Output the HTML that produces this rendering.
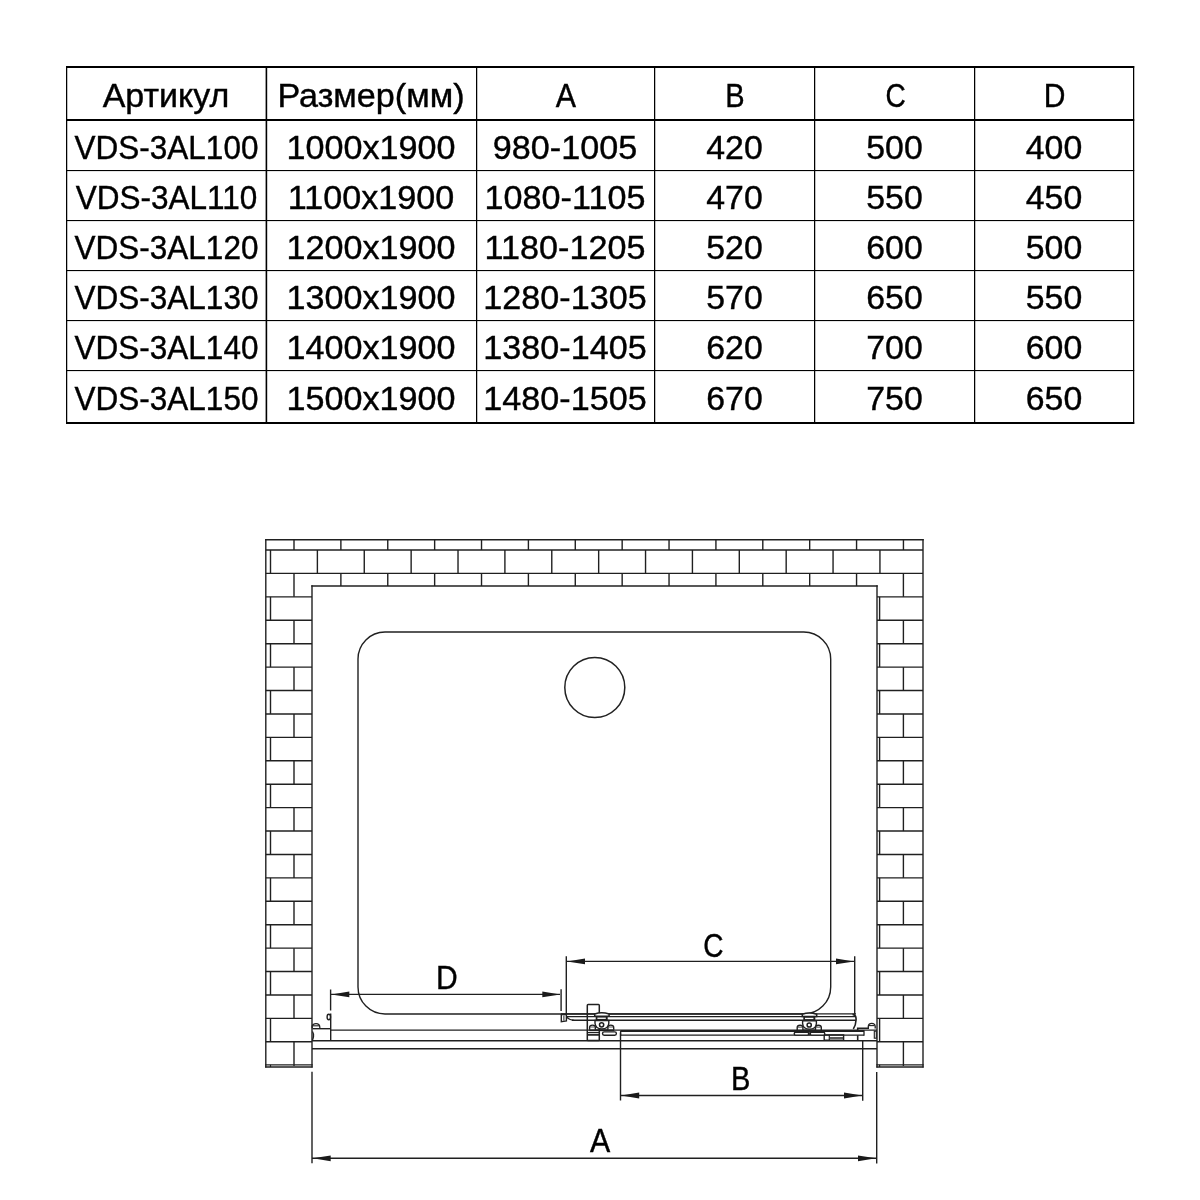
<!DOCTYPE html>
<html><head><meta charset="utf-8"><style>
html,body{margin:0;padding:0;background:#fff;width:1200px;height:1200px;overflow:hidden}
svg{display:block;will-change:transform}
text{font-family:"Liberation Sans",sans-serif;font-size:33px;fill:#000;stroke:#000;stroke-width:0.4px}
</style></head><body>
<svg width="1200" height="1200" viewBox="0 0 1200 1200">
<rect width="1200" height="1200" fill="#fff"/>
<g id="table">
<rect x="66" y="66" width="1.25" height="358" fill="#000"/>
<rect x="265.6" y="66" width="1.6" height="358" fill="#000"/>
<rect x="476" y="66" width="1.25" height="358" fill="#000"/>
<rect x="654" y="66" width="1.25" height="358" fill="#000"/>
<rect x="814" y="66" width="1.25" height="358" fill="#000"/>
<rect x="974" y="66" width="1.25" height="358" fill="#000"/>
<rect x="1133" y="66" width="1.25" height="358" fill="#000"/>
<rect x="66" y="66" width="1068.2" height="2" fill="#000"/>
<rect x="66" y="119" width="1068.2" height="2" fill="#000"/>
<rect x="66" y="170" width="1068.2" height="1.1" fill="#000"/>
<rect x="66" y="220" width="1068.2" height="1.1" fill="#000"/>
<rect x="66" y="270" width="1068.2" height="1.1" fill="#000"/>
<rect x="66" y="320" width="1068.2" height="1.1" fill="#000"/>
<rect x="66" y="370" width="1068.2" height="1.1" fill="#000"/>
<rect x="66" y="422" width="1068.2" height="2" fill="#000"/>
<text transform="translate(166.00,107) scale(1.03,1)" text-anchor="middle">Артикул</text>
<text transform="translate(371.00,107) scale(1.035,1)" text-anchor="middle">Размер(мм)</text>
<text transform="translate(565.80,107) scale(0.92,1)" text-anchor="middle">A</text>
<text transform="translate(734.90,107) scale(0.88,1)" text-anchor="middle">B</text>
<text transform="translate(895.50,107) scale(0.85,1)" text-anchor="middle">C</text>
<text transform="translate(1054.50,107) scale(0.91,1)" text-anchor="middle">D</text>
<text transform="translate(166.50,159) scale(0.955,1)" text-anchor="middle">VDS-3AL100</text>
<text transform="translate(371.00,159) scale(1.035,1)" text-anchor="middle">1000x1900</text>
<text transform="translate(565.00,159) scale(1.035,1)" text-anchor="middle">980-1005</text>
<text transform="translate(734.50,159) scale(1.025,1)" text-anchor="middle">420</text>
<text transform="translate(894.50,159) scale(1.025,1)" text-anchor="middle">500</text>
<text transform="translate(1054.00,159) scale(1.025,1)" text-anchor="middle">400</text>
<text transform="translate(166.50,209.3) scale(0.955,1)" text-anchor="middle">VDS-3AL110</text>
<text transform="translate(371.00,209.3) scale(1.035,1)" text-anchor="middle">1100x1900</text>
<text transform="translate(565.00,209.3) scale(1.035,1)" text-anchor="middle">1080-1105</text>
<text transform="translate(734.50,209.3) scale(1.025,1)" text-anchor="middle">470</text>
<text transform="translate(894.50,209.3) scale(1.025,1)" text-anchor="middle">550</text>
<text transform="translate(1054.00,209.3) scale(1.025,1)" text-anchor="middle">450</text>
<text transform="translate(166.50,259.2) scale(0.955,1)" text-anchor="middle">VDS-3AL120</text>
<text transform="translate(371.00,259.2) scale(1.035,1)" text-anchor="middle">1200x1900</text>
<text transform="translate(565.00,259.2) scale(1.035,1)" text-anchor="middle">1180-1205</text>
<text transform="translate(734.50,259.2) scale(1.025,1)" text-anchor="middle">520</text>
<text transform="translate(894.50,259.2) scale(1.025,1)" text-anchor="middle">600</text>
<text transform="translate(1054.00,259.2) scale(1.025,1)" text-anchor="middle">500</text>
<text transform="translate(166.50,308.7) scale(0.955,1)" text-anchor="middle">VDS-3AL130</text>
<text transform="translate(371.00,308.7) scale(1.035,1)" text-anchor="middle">1300x1900</text>
<text transform="translate(565.00,308.7) scale(1.035,1)" text-anchor="middle">1280-1305</text>
<text transform="translate(734.50,308.7) scale(1.025,1)" text-anchor="middle">570</text>
<text transform="translate(894.50,308.7) scale(1.025,1)" text-anchor="middle">650</text>
<text transform="translate(1054.00,308.7) scale(1.025,1)" text-anchor="middle">550</text>
<text transform="translate(166.50,358.8) scale(0.955,1)" text-anchor="middle">VDS-3AL140</text>
<text transform="translate(371.00,358.8) scale(1.035,1)" text-anchor="middle">1400x1900</text>
<text transform="translate(565.00,358.8) scale(1.035,1)" text-anchor="middle">1380-1405</text>
<text transform="translate(734.50,358.8) scale(1.025,1)" text-anchor="middle">620</text>
<text transform="translate(894.50,358.8) scale(1.025,1)" text-anchor="middle">700</text>
<text transform="translate(1054.00,358.8) scale(1.025,1)" text-anchor="middle">600</text>
<text transform="translate(166.50,410.2) scale(0.955,1)" text-anchor="middle">VDS-3AL150</text>
<text transform="translate(371.00,410.2) scale(1.035,1)" text-anchor="middle">1500x1900</text>
<text transform="translate(565.00,410.2) scale(1.035,1)" text-anchor="middle">1480-1505</text>
<text transform="translate(734.50,410.2) scale(1.025,1)" text-anchor="middle">670</text>
<text transform="translate(894.50,410.2) scale(1.025,1)" text-anchor="middle">750</text>
<text transform="translate(1054.00,410.2) scale(1.025,1)" text-anchor="middle">650</text>
</g>
<g id="wall" stroke-linecap="butt">
<line x1="265.80" y1="539.10" x2="265.80" y2="1067.60" stroke="#202020" stroke-width="1.4"/>
<line x1="265.10" y1="539.80" x2="923.70" y2="539.80" stroke="#202020" stroke-width="1.4"/>
<line x1="923.00" y1="539.10" x2="923.00" y2="1067.60" stroke="#202020" stroke-width="1.4"/>
<line x1="312.00" y1="585.30" x2="312.00" y2="1067.60" stroke="#202020" stroke-width="1.4"/>
<line x1="311.30" y1="586.00" x2="877.70" y2="586.00" stroke="#202020" stroke-width="1.4"/>
<line x1="877.00" y1="585.30" x2="877.00" y2="1067.60" stroke="#202020" stroke-width="1.4"/>
<line x1="265.10" y1="1064.80" x2="312.70" y2="1064.80" stroke="#202020" stroke-width="1.3"/>
<line x1="265.10" y1="1067.00" x2="312.70" y2="1067.00" stroke="#202020" stroke-width="1.3"/>
<line x1="270.50" y1="1064.80" x2="270.50" y2="1067.00" stroke="#202020" stroke-width="1.2"/>
<line x1="876.30" y1="1064.80" x2="923.70" y2="1064.80" stroke="#202020" stroke-width="1.3"/>
<line x1="876.30" y1="1067.00" x2="923.70" y2="1067.00" stroke="#202020" stroke-width="1.3"/>
<line x1="879.60" y1="1064.80" x2="879.60" y2="1067.00" stroke="#202020" stroke-width="1.2"/>
<line x1="265.80" y1="550.00" x2="923.00" y2="550.00" stroke="#202020" stroke-width="1.4"/>
<line x1="265.80" y1="573.42" x2="923.00" y2="573.42" stroke="#202020" stroke-width="1.4"/>
<line x1="265.80" y1="596.84" x2="312.00" y2="596.84" stroke="#202020" stroke-width="1.4"/>
<line x1="877.00" y1="596.84" x2="923.00" y2="596.84" stroke="#202020" stroke-width="1.4"/>
<line x1="265.80" y1="620.26" x2="312.00" y2="620.26" stroke="#202020" stroke-width="1.4"/>
<line x1="877.00" y1="620.26" x2="923.00" y2="620.26" stroke="#202020" stroke-width="1.4"/>
<line x1="265.80" y1="643.68" x2="312.00" y2="643.68" stroke="#202020" stroke-width="1.4"/>
<line x1="877.00" y1="643.68" x2="923.00" y2="643.68" stroke="#202020" stroke-width="1.4"/>
<line x1="265.80" y1="667.10" x2="312.00" y2="667.10" stroke="#202020" stroke-width="1.4"/>
<line x1="877.00" y1="667.10" x2="923.00" y2="667.10" stroke="#202020" stroke-width="1.4"/>
<line x1="265.80" y1="690.52" x2="312.00" y2="690.52" stroke="#202020" stroke-width="1.4"/>
<line x1="877.00" y1="690.52" x2="923.00" y2="690.52" stroke="#202020" stroke-width="1.4"/>
<line x1="265.80" y1="713.94" x2="312.00" y2="713.94" stroke="#202020" stroke-width="1.4"/>
<line x1="877.00" y1="713.94" x2="923.00" y2="713.94" stroke="#202020" stroke-width="1.4"/>
<line x1="265.80" y1="737.36" x2="312.00" y2="737.36" stroke="#202020" stroke-width="1.4"/>
<line x1="877.00" y1="737.36" x2="923.00" y2="737.36" stroke="#202020" stroke-width="1.4"/>
<line x1="265.80" y1="760.78" x2="312.00" y2="760.78" stroke="#202020" stroke-width="1.4"/>
<line x1="877.00" y1="760.78" x2="923.00" y2="760.78" stroke="#202020" stroke-width="1.4"/>
<line x1="265.80" y1="784.20" x2="312.00" y2="784.20" stroke="#202020" stroke-width="1.4"/>
<line x1="877.00" y1="784.20" x2="923.00" y2="784.20" stroke="#202020" stroke-width="1.4"/>
<line x1="265.80" y1="807.62" x2="312.00" y2="807.62" stroke="#202020" stroke-width="1.4"/>
<line x1="877.00" y1="807.62" x2="923.00" y2="807.62" stroke="#202020" stroke-width="1.4"/>
<line x1="265.80" y1="831.04" x2="312.00" y2="831.04" stroke="#202020" stroke-width="1.4"/>
<line x1="877.00" y1="831.04" x2="923.00" y2="831.04" stroke="#202020" stroke-width="1.4"/>
<line x1="265.80" y1="854.46" x2="312.00" y2="854.46" stroke="#202020" stroke-width="1.4"/>
<line x1="877.00" y1="854.46" x2="923.00" y2="854.46" stroke="#202020" stroke-width="1.4"/>
<line x1="265.80" y1="877.88" x2="312.00" y2="877.88" stroke="#202020" stroke-width="1.4"/>
<line x1="877.00" y1="877.88" x2="923.00" y2="877.88" stroke="#202020" stroke-width="1.4"/>
<line x1="265.80" y1="901.30" x2="312.00" y2="901.30" stroke="#202020" stroke-width="1.4"/>
<line x1="877.00" y1="901.30" x2="923.00" y2="901.30" stroke="#202020" stroke-width="1.4"/>
<line x1="265.80" y1="924.72" x2="312.00" y2="924.72" stroke="#202020" stroke-width="1.4"/>
<line x1="877.00" y1="924.72" x2="923.00" y2="924.72" stroke="#202020" stroke-width="1.4"/>
<line x1="265.80" y1="948.14" x2="312.00" y2="948.14" stroke="#202020" stroke-width="1.4"/>
<line x1="877.00" y1="948.14" x2="923.00" y2="948.14" stroke="#202020" stroke-width="1.4"/>
<line x1="265.80" y1="971.56" x2="312.00" y2="971.56" stroke="#202020" stroke-width="1.4"/>
<line x1="877.00" y1="971.56" x2="923.00" y2="971.56" stroke="#202020" stroke-width="1.4"/>
<line x1="265.80" y1="994.98" x2="312.00" y2="994.98" stroke="#202020" stroke-width="1.4"/>
<line x1="877.00" y1="994.98" x2="923.00" y2="994.98" stroke="#202020" stroke-width="1.4"/>
<line x1="265.80" y1="1018.40" x2="312.00" y2="1018.40" stroke="#202020" stroke-width="1.4"/>
<line x1="877.00" y1="1018.40" x2="923.00" y2="1018.40" stroke="#202020" stroke-width="1.4"/>
<line x1="265.80" y1="1041.82" x2="312.00" y2="1041.82" stroke="#202020" stroke-width="1.4"/>
<line x1="877.00" y1="1041.82" x2="923.00" y2="1041.82" stroke="#202020" stroke-width="1.4"/>
<line x1="294.00" y1="539.80" x2="294.00" y2="550.00" stroke="#202020" stroke-width="1.4"/>
<line x1="270.50" y1="550.00" x2="270.50" y2="573.42" stroke="#202020" stroke-width="1.4"/>
<line x1="340.88" y1="539.80" x2="340.88" y2="550.00" stroke="#202020" stroke-width="1.4"/>
<line x1="317.38" y1="550.00" x2="317.38" y2="573.42" stroke="#202020" stroke-width="1.4"/>
<line x1="387.76" y1="539.80" x2="387.76" y2="550.00" stroke="#202020" stroke-width="1.4"/>
<line x1="364.26" y1="550.00" x2="364.26" y2="573.42" stroke="#202020" stroke-width="1.4"/>
<line x1="434.64" y1="539.80" x2="434.64" y2="550.00" stroke="#202020" stroke-width="1.4"/>
<line x1="411.14" y1="550.00" x2="411.14" y2="573.42" stroke="#202020" stroke-width="1.4"/>
<line x1="481.52" y1="539.80" x2="481.52" y2="550.00" stroke="#202020" stroke-width="1.4"/>
<line x1="458.02" y1="550.00" x2="458.02" y2="573.42" stroke="#202020" stroke-width="1.4"/>
<line x1="528.40" y1="539.80" x2="528.40" y2="550.00" stroke="#202020" stroke-width="1.4"/>
<line x1="504.90" y1="550.00" x2="504.90" y2="573.42" stroke="#202020" stroke-width="1.4"/>
<line x1="575.28" y1="539.80" x2="575.28" y2="550.00" stroke="#202020" stroke-width="1.4"/>
<line x1="551.78" y1="550.00" x2="551.78" y2="573.42" stroke="#202020" stroke-width="1.4"/>
<line x1="622.16" y1="539.80" x2="622.16" y2="550.00" stroke="#202020" stroke-width="1.4"/>
<line x1="598.66" y1="550.00" x2="598.66" y2="573.42" stroke="#202020" stroke-width="1.4"/>
<line x1="669.04" y1="539.80" x2="669.04" y2="550.00" stroke="#202020" stroke-width="1.4"/>
<line x1="645.54" y1="550.00" x2="645.54" y2="573.42" stroke="#202020" stroke-width="1.4"/>
<line x1="715.92" y1="539.80" x2="715.92" y2="550.00" stroke="#202020" stroke-width="1.4"/>
<line x1="692.42" y1="550.00" x2="692.42" y2="573.42" stroke="#202020" stroke-width="1.4"/>
<line x1="762.80" y1="539.80" x2="762.80" y2="550.00" stroke="#202020" stroke-width="1.4"/>
<line x1="739.30" y1="550.00" x2="739.30" y2="573.42" stroke="#202020" stroke-width="1.4"/>
<line x1="809.68" y1="539.80" x2="809.68" y2="550.00" stroke="#202020" stroke-width="1.4"/>
<line x1="786.18" y1="550.00" x2="786.18" y2="573.42" stroke="#202020" stroke-width="1.4"/>
<line x1="856.56" y1="539.80" x2="856.56" y2="550.00" stroke="#202020" stroke-width="1.4"/>
<line x1="833.06" y1="550.00" x2="833.06" y2="573.42" stroke="#202020" stroke-width="1.4"/>
<line x1="903.44" y1="539.80" x2="903.44" y2="550.00" stroke="#202020" stroke-width="1.4"/>
<line x1="879.94" y1="550.00" x2="879.94" y2="573.42" stroke="#202020" stroke-width="1.4"/>
<line x1="340.88" y1="573.42" x2="340.88" y2="586.00" stroke="#202020" stroke-width="1.4"/>
<line x1="387.76" y1="573.42" x2="387.76" y2="586.00" stroke="#202020" stroke-width="1.4"/>
<line x1="434.64" y1="573.42" x2="434.64" y2="586.00" stroke="#202020" stroke-width="1.4"/>
<line x1="481.52" y1="573.42" x2="481.52" y2="586.00" stroke="#202020" stroke-width="1.4"/>
<line x1="528.40" y1="573.42" x2="528.40" y2="586.00" stroke="#202020" stroke-width="1.4"/>
<line x1="575.28" y1="573.42" x2="575.28" y2="586.00" stroke="#202020" stroke-width="1.4"/>
<line x1="622.16" y1="573.42" x2="622.16" y2="586.00" stroke="#202020" stroke-width="1.4"/>
<line x1="669.04" y1="573.42" x2="669.04" y2="586.00" stroke="#202020" stroke-width="1.4"/>
<line x1="715.92" y1="573.42" x2="715.92" y2="586.00" stroke="#202020" stroke-width="1.4"/>
<line x1="762.80" y1="573.42" x2="762.80" y2="586.00" stroke="#202020" stroke-width="1.4"/>
<line x1="809.68" y1="573.42" x2="809.68" y2="586.00" stroke="#202020" stroke-width="1.4"/>
<line x1="856.56" y1="573.42" x2="856.56" y2="586.00" stroke="#202020" stroke-width="1.4"/>
<line x1="294.00" y1="573.42" x2="294.00" y2="596.84" stroke="#202020" stroke-width="1.4"/>
<line x1="903.40" y1="573.42" x2="903.40" y2="596.84" stroke="#202020" stroke-width="1.4"/>
<line x1="270.50" y1="596.84" x2="270.50" y2="620.26" stroke="#202020" stroke-width="1.4"/>
<line x1="879.60" y1="596.84" x2="879.60" y2="620.26" stroke="#202020" stroke-width="1.4"/>
<line x1="294.00" y1="620.26" x2="294.00" y2="643.68" stroke="#202020" stroke-width="1.4"/>
<line x1="903.40" y1="620.26" x2="903.40" y2="643.68" stroke="#202020" stroke-width="1.4"/>
<line x1="270.50" y1="643.68" x2="270.50" y2="667.10" stroke="#202020" stroke-width="1.4"/>
<line x1="879.60" y1="643.68" x2="879.60" y2="667.10" stroke="#202020" stroke-width="1.4"/>
<line x1="294.00" y1="667.10" x2="294.00" y2="690.52" stroke="#202020" stroke-width="1.4"/>
<line x1="903.40" y1="667.10" x2="903.40" y2="690.52" stroke="#202020" stroke-width="1.4"/>
<line x1="270.50" y1="690.52" x2="270.50" y2="713.94" stroke="#202020" stroke-width="1.4"/>
<line x1="879.60" y1="690.52" x2="879.60" y2="713.94" stroke="#202020" stroke-width="1.4"/>
<line x1="294.00" y1="713.94" x2="294.00" y2="737.36" stroke="#202020" stroke-width="1.4"/>
<line x1="903.40" y1="713.94" x2="903.40" y2="737.36" stroke="#202020" stroke-width="1.4"/>
<line x1="270.50" y1="737.36" x2="270.50" y2="760.78" stroke="#202020" stroke-width="1.4"/>
<line x1="879.60" y1="737.36" x2="879.60" y2="760.78" stroke="#202020" stroke-width="1.4"/>
<line x1="294.00" y1="760.78" x2="294.00" y2="784.20" stroke="#202020" stroke-width="1.4"/>
<line x1="903.40" y1="760.78" x2="903.40" y2="784.20" stroke="#202020" stroke-width="1.4"/>
<line x1="270.50" y1="784.20" x2="270.50" y2="807.62" stroke="#202020" stroke-width="1.4"/>
<line x1="879.60" y1="784.20" x2="879.60" y2="807.62" stroke="#202020" stroke-width="1.4"/>
<line x1="294.00" y1="807.62" x2="294.00" y2="831.04" stroke="#202020" stroke-width="1.4"/>
<line x1="903.40" y1="807.62" x2="903.40" y2="831.04" stroke="#202020" stroke-width="1.4"/>
<line x1="270.50" y1="831.04" x2="270.50" y2="854.46" stroke="#202020" stroke-width="1.4"/>
<line x1="879.60" y1="831.04" x2="879.60" y2="854.46" stroke="#202020" stroke-width="1.4"/>
<line x1="294.00" y1="854.46" x2="294.00" y2="877.88" stroke="#202020" stroke-width="1.4"/>
<line x1="903.40" y1="854.46" x2="903.40" y2="877.88" stroke="#202020" stroke-width="1.4"/>
<line x1="270.50" y1="877.88" x2="270.50" y2="901.30" stroke="#202020" stroke-width="1.4"/>
<line x1="879.60" y1="877.88" x2="879.60" y2="901.30" stroke="#202020" stroke-width="1.4"/>
<line x1="294.00" y1="901.30" x2="294.00" y2="924.72" stroke="#202020" stroke-width="1.4"/>
<line x1="903.40" y1="901.30" x2="903.40" y2="924.72" stroke="#202020" stroke-width="1.4"/>
<line x1="270.50" y1="924.72" x2="270.50" y2="948.14" stroke="#202020" stroke-width="1.4"/>
<line x1="879.60" y1="924.72" x2="879.60" y2="948.14" stroke="#202020" stroke-width="1.4"/>
<line x1="294.00" y1="948.14" x2="294.00" y2="971.56" stroke="#202020" stroke-width="1.4"/>
<line x1="903.40" y1="948.14" x2="903.40" y2="971.56" stroke="#202020" stroke-width="1.4"/>
<line x1="270.50" y1="971.56" x2="270.50" y2="994.98" stroke="#202020" stroke-width="1.4"/>
<line x1="879.60" y1="971.56" x2="879.60" y2="994.98" stroke="#202020" stroke-width="1.4"/>
<line x1="294.00" y1="994.98" x2="294.00" y2="1018.40" stroke="#202020" stroke-width="1.4"/>
<line x1="903.40" y1="994.98" x2="903.40" y2="1018.40" stroke="#202020" stroke-width="1.4"/>
<line x1="270.50" y1="1018.40" x2="270.50" y2="1041.82" stroke="#202020" stroke-width="1.4"/>
<line x1="879.60" y1="1018.40" x2="879.60" y2="1041.82" stroke="#202020" stroke-width="1.4"/>
<line x1="294.00" y1="1041.82" x2="294.00" y2="1066.00" stroke="#202020" stroke-width="1.4"/>
<line x1="903.40" y1="1041.82" x2="903.40" y2="1066.00" stroke="#202020" stroke-width="1.4"/>
</g>
<g id="drawing">
<rect x="358" y="632" width="472.7" height="382" rx="27" ry="27" fill="none" stroke="#202020" stroke-width="1.4"/>
<circle cx="594.8" cy="687.5" r="30" fill="none" stroke="#222" stroke-width="1.5"/>
<line x1="330.60" y1="989.50" x2="330.60" y2="1010.50" stroke="#202020" stroke-width="1.4"/>
<line x1="561.10" y1="989.30" x2="561.10" y2="1011.00" stroke="#202020" stroke-width="1.4"/>
<line x1="331.00" y1="994.40" x2="560.00" y2="994.40" stroke="#202020" stroke-width="1.4"/>
<polygon points="331.30,994.40 349.30,991.50 349.30,997.30" fill="#1a1a1a"/>
<polygon points="560.30,994.40 542.30,991.50 542.30,997.30" fill="#1a1a1a"/>
<line x1="566.30" y1="956.30" x2="566.30" y2="1014.30" stroke="#202020" stroke-width="1.4"/>
<line x1="854.70" y1="956.30" x2="854.70" y2="1014.50" stroke="#202020" stroke-width="1.4"/>
<line x1="566.30" y1="961.40" x2="854.70" y2="961.40" stroke="#202020" stroke-width="1.4"/>
<polygon points="567.00,961.40 585.00,958.50 585.00,964.30" fill="#1a1a1a"/>
<polygon points="854.00,961.40 836.00,958.50 836.00,964.30" fill="#1a1a1a"/>
<line x1="620.50" y1="1032.50" x2="620.50" y2="1100.50" stroke="#202020" stroke-width="1.4"/>
<line x1="862.70" y1="1040.70" x2="862.70" y2="1100.70" stroke="#202020" stroke-width="1.4"/>
<line x1="620.50" y1="1095.50" x2="862.70" y2="1095.50" stroke="#202020" stroke-width="1.4"/>
<polygon points="621.20,1095.50 639.20,1092.60 639.20,1098.40" fill="#1a1a1a"/>
<polygon points="862.00,1095.50 844.00,1092.60 844.00,1098.40" fill="#1a1a1a"/>
<line x1="312.00" y1="1071.70" x2="312.00" y2="1163.20" stroke="#202020" stroke-width="1.4"/>
<line x1="876.70" y1="1072.00" x2="876.70" y2="1163.50" stroke="#202020" stroke-width="1.4"/>
<line x1="312.00" y1="1158.30" x2="876.70" y2="1158.30" stroke="#202020" stroke-width="1.4"/>
<polygon points="312.70,1158.30 330.70,1155.40 330.70,1161.20" fill="#1a1a1a"/>
<polygon points="876.00,1158.30 858.00,1155.40 858.00,1161.20" fill="#1a1a1a"/>
<line x1="561.00" y1="1013.90" x2="856.00" y2="1013.90" stroke="#202020" stroke-width="1.2"/>
<line x1="566.30" y1="1016.70" x2="855.50" y2="1016.70" stroke="#202020" stroke-width="1.2"/>
<line x1="572.00" y1="1020.30" x2="856.00" y2="1020.30" stroke="#202020" stroke-width="1.4"/>
<path d="M566.5,1016.8 Q569,1019.8 574,1020.3" fill="none" stroke="#202020" stroke-width="1.2"/>
<line x1="331.00" y1="1030.20" x2="877.00" y2="1030.20" stroke="#202020" stroke-width="1.3"/>
<line x1="621.00" y1="1031.00" x2="864.00" y2="1031.00" stroke="#202020" stroke-width="1.9"/>
<line x1="621.00" y1="1035.20" x2="864.00" y2="1035.20" stroke="#202020" stroke-width="1.3"/>
<line x1="312.00" y1="1040.80" x2="877.00" y2="1040.80" stroke="#202020" stroke-width="1.5"/>
<line x1="312.00" y1="1048.75" x2="877.00" y2="1048.75" stroke="#202020" stroke-width="1.4"/>
<line x1="312.50" y1="1028.70" x2="330.70" y2="1028.70" stroke="#202020" stroke-width="1.4"/>
<line x1="330.70" y1="1013.50" x2="330.70" y2="1041.00" stroke="#202020" stroke-width="1.4"/>
<path d="M312.2,1028.3 L312.2,1026 Q313,1023.6 316,1023.6 Q319.6,1023.6 319.8,1027 L319.8,1028.5" fill="none" stroke="#202020" stroke-width="1.3"/>
<line x1="313.00" y1="1025.80" x2="319.00" y2="1025.80" stroke="#202020" stroke-width="1.1"/>
<ellipse cx="328.8" cy="1017" rx="1.7" ry="2.7" fill="none" stroke="#202020" stroke-width="1.4"/>
<path d="M312.5,1031.5 Q314,1034 313.5,1036.5 Q313,1039 312.5,1040" fill="none" stroke="#202020" stroke-width="1.3"/>
<path d="M561.3,1014.6 L566.4,1014.6 L566.4,1021.0 L561.3,1021.8 Z" fill="#fff" stroke="#202020" stroke-width="1.4"/>
<line x1="563.90" y1="1015.50" x2="563.90" y2="1020.50" stroke="#202020" stroke-width="1.0"/>
<path d="M852.5,1014.4 Q856.3,1014.6 856.1,1019.8 Q855.8,1025.5 853.3,1029" fill="none" stroke="#202020" stroke-width="1.6"/>
<line x1="864.00" y1="1030.30" x2="864.00" y2="1035.80" stroke="#202020" stroke-width="1.3"/>
<line x1="620.60" y1="1030.50" x2="620.60" y2="1035.80" stroke="#202020" stroke-width="1.3"/>
<path d="M857.7,1031.2 L857.7,1028.2 L869,1028.2" fill="none" stroke="#202020" stroke-width="1.6"/>
<line x1="857.70" y1="1035.30" x2="857.70" y2="1040.80" stroke="#202020" stroke-width="1.6"/>
<path d="M868.3,1028.4 L868.3,1026.2 Q868.8,1023.4 871.7,1023.4 Q875,1023.4 875.2,1026.5 L875.2,1028.4" fill="none" stroke="#202020" stroke-width="1.3"/>
<line x1="869.00" y1="1025.60" x2="874.50" y2="1025.60" stroke="#202020" stroke-width="1.1"/>
<rect x="874.3" y="1031.2" width="2" height="7" fill="none" stroke="#202020" stroke-width="1.1"/>
<rect x="824.2" y="1034.9" width="19.4" height="5.3" fill="none" stroke="#202020" stroke-width="1.4"/>
<line x1="829.30" y1="1035.00" x2="829.30" y2="1040.00" stroke="#202020" stroke-width="1.2"/>
<line x1="830.00" y1="1038.00" x2="843.00" y2="1038.00" stroke="#202020" stroke-width="1.5"/>
<rect x="587.3" y="1004.6" width="12" height="35.9" rx="0.8" fill="none" stroke="#202020" stroke-width="1.5"/>
<line x1="588.00" y1="1032.60" x2="599.00" y2="1032.60" stroke="#202020" stroke-width="1.2"/>
<line x1="588.00" y1="1034.90" x2="599.00" y2="1034.90" stroke="#202020" stroke-width="1.7"/>
<path d="M594.70,1016.20 L594.70,1014.00 Q601.60,1011.40 609.10,1014.00 L609.10,1016.20 Z" fill="#fff" stroke="#202020" stroke-width="1.5"/>
<rect x="595.70" y="1016.20" width="12" height="4" fill="#202020"/>
<rect x="597.40" y="1017.60" width="8.4" height="1.3" fill="#fff"/>
<path d="M595.00,1020.50 L595.00,1023.30 Q595.40,1028.90 601.90,1028.90 Q608.50,1028.90 608.80,1023.30 L608.80,1020.50 Z" fill="#fff" stroke="#202020" stroke-width="1.4"/>
<circle cx="601.60" cy="1024.80" r="2.1" fill="none" stroke="#1e1e1e" stroke-width="1.5"/>
<path d="M589.60,1029.80 L589.60,1027.40 Q589.60,1025.10 592.50,1025.10 Q595.30,1025.10 595.30,1027.40 L595.30,1029.80" fill="#fff" stroke="#202020" stroke-width="1.4"/>
<path d="M607.90,1029.80 L607.90,1027.40 Q607.90,1025.10 610.80,1025.10 Q613.70,1025.10 613.70,1027.40 L613.70,1029.80" fill="#fff" stroke="#202020" stroke-width="1.4"/>
<line x1="590.20" y1="1027.00" x2="594.70" y2="1027.00" stroke="#555" stroke-width="1.0"/>
<line x1="608.50" y1="1027.00" x2="613.10" y2="1027.00" stroke="#555" stroke-width="1.0"/>
<line x1="589.30" y1="1030.20" x2="614.20" y2="1030.20" stroke="#202020" stroke-width="1.9"/>
<rect x="602.5" y="1031.9" width="13.9" height="3.3" rx="1.65" fill="#fff" stroke="#202020" stroke-width="1.4"/>
<path d="M802.30,1016.40 L802.30,1014.20 Q809.20,1011.60 816.70,1014.20 L816.70,1016.40 Z" fill="#fff" stroke="#202020" stroke-width="1.5"/>
<rect x="803.30" y="1016.40" width="12" height="4" fill="#202020"/>
<rect x="805.00" y="1017.80" width="8.4" height="1.3" fill="#fff"/>
<path d="M802.60,1020.70 L802.60,1023.50 Q803.00,1029.10 809.50,1029.10 Q816.10,1029.10 816.40,1023.50 L816.40,1020.70 Z" fill="#fff" stroke="#202020" stroke-width="1.4"/>
<circle cx="809.20" cy="1025.00" r="2.1" fill="none" stroke="#1e1e1e" stroke-width="1.5"/>
<path d="M797.20,1030.00 L797.20,1027.60 Q797.20,1025.30 800.10,1025.30 Q802.90,1025.30 802.90,1027.60 L802.90,1030.00" fill="#fff" stroke="#202020" stroke-width="1.4"/>
<path d="M815.50,1030.00 L815.50,1027.60 Q815.50,1025.30 818.40,1025.30 Q821.30,1025.30 821.30,1027.60 L821.30,1030.00" fill="#fff" stroke="#202020" stroke-width="1.4"/>
<line x1="797.80" y1="1027.20" x2="802.30" y2="1027.20" stroke="#555" stroke-width="1.0"/>
<line x1="816.10" y1="1027.20" x2="820.70" y2="1027.20" stroke="#555" stroke-width="1.0"/>
<line x1="796.90" y1="1030.40" x2="821.80" y2="1030.40" stroke="#202020" stroke-width="1.9"/>
<rect x="794.2" y="1032.3" width="14.5" height="2.8" rx="1.4" fill="#fff" stroke="#202020" stroke-width="1.4"/>
<rect x="810.2" y="1032.3" width="14.6" height="2.8" rx="1.4" fill="#fff" stroke="#202020" stroke-width="1.4"/>
<line x1="809.20" y1="1030.50" x2="809.20" y2="1035.50" stroke="#202020" stroke-width="1.2"/>
<text transform="translate(600.0,1151.8) scale(0.92,1)" text-anchor="middle">A</text>
<text transform="translate(740.8,1089.8) scale(0.88,1)" text-anchor="middle">B</text>
<text transform="translate(713.3,957.2) scale(0.85,1)" text-anchor="middle">C</text>
<text transform="translate(446.9,988.8) scale(0.91,1)" text-anchor="middle">D</text>
</g>
</svg>
</body></html>
